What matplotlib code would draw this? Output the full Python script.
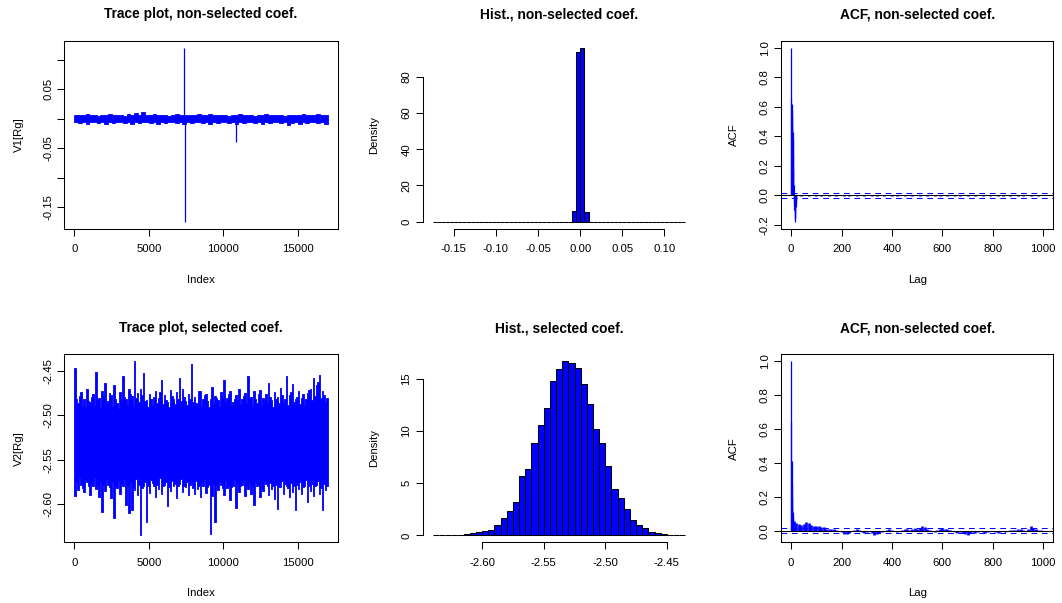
import numpy as np
import matplotlib
matplotlib.use("Agg")
import matplotlib.pyplot as plt

plt.rcParams['font.family'] = ['Liberation Sans', 'DejaVu Sans']

# ---------------- data ----------------
n_iter = 17000

# Trace 1 (non-selected coef.): per-bin upper / lower extremes
trace1_hi = [0.006, 0.007, 0.006, 0.008, 0.006, 0.007, 0.005, 0.007, 0.006, 0.008,
             0.006, 0.007, 0.006, 0.005, 0.009, 0.007, 0.010, 0.006, 0.011, 0.007,
             0.006, 0.008, 0.007, 0.006, 0.007, 0.005, 0.006, 0.008, 0.006, 0.007,
             0.006, 0.007, 0.006, 0.008, 0.007, 0.006, 0.009, 0.007, 0.006, 0.007,
             0.006, 0.005, 0.007, 0.006, 0.008, 0.006, 0.007, 0.006, 0.005, 0.007,
             0.006, 0.008, 0.007, 0.006, 0.007, 0.006, 0.005, 0.007, 0.006, 0.007,
             0.006, 0.008, 0.006, 0.007, 0.006, 0.009, 0.007, 0.006]
trace1_lo = [-0.006, -0.007, -0.006, -0.008, -0.006, -0.005, -0.007, -0.006, -0.009, -0.006,
             -0.007, -0.006, -0.005, -0.007, -0.006, -0.008, -0.006, -0.007, -0.006, -0.005,
             -0.007, -0.006, -0.008, -0.006, -0.007, -0.006, -0.005, -0.007, -0.006, -0.008,
             -0.006, -0.007, -0.006, -0.005, -0.007, -0.006, -0.008, -0.006, -0.007, -0.006,
             -0.005, -0.007, -0.006, -0.008, -0.006, -0.007, -0.006, -0.005, -0.007, -0.006,
             -0.008, -0.006, -0.007, -0.006, -0.005, -0.007, -0.006, -0.010, -0.007, -0.006,
             -0.008, -0.006, -0.007, -0.006, -0.005, -0.007, -0.006, -0.008]
trace1_spike_idx = [7335, 7423, 10850]
trace1_spike_val = [0.121, -0.175, -0.039]

# Trace 2 (selected coef.): per-bin (100 iterations) upper / lower extremes
trace2_hi = [
    -2.447, -2.481, -2.486, -2.478, -2.474, -2.489, -2.482, -2.491, -2.470, -2.484,
    -2.485, -2.479, -2.476, -2.488, -2.451, -2.483, -2.480, -2.490, -2.472, -2.477,
    -2.463, -2.486, -2.484, -2.475, -2.477, -2.489, -2.466, -2.481, -2.486, -2.492,
    -2.474, -2.483, -2.456, -2.479, -2.481, -2.487, -2.470, -2.476, -2.478, -2.488,
    -2.439, -2.480, -2.475, -2.485, -2.470, -2.477, -2.452, -2.484, -2.483, -2.490,
    -2.476, -2.482, -2.488, -2.479, -2.472, -2.486, -2.480, -2.474, -2.460, -2.487,
    -2.477, -2.483, -2.485, -2.490, -2.471, -2.478, -2.482, -2.487, -2.474, -2.481,
    -2.458, -2.484, -2.470, -2.479, -2.484, -2.488, -2.476, -2.482, -2.442, -2.485,
    -2.479, -2.486, -2.487, -2.473, -2.473, -2.489, -2.481, -2.477, -2.476, -2.484,
    -2.490, -2.482, -2.468, -2.487, -2.478, -2.480, -2.483, -2.489, -2.474, -2.479,
    -2.460, -2.484, -2.480, -2.476, -2.472, -2.488, -2.485, -2.481, -2.477, -2.483,
    -2.470, -2.487, -2.482, -2.478, -2.475, -2.486, -2.456, -2.480, -2.479, -2.489,
    -2.473, -2.481, -2.486, -2.476, -2.471, -2.488, -2.480, -2.483, -2.476, -2.485,
    -2.464, -2.479, -2.483, -2.490, -2.474, -2.482, -2.479, -2.486, -2.469, -2.477,
    -2.485, -2.481, -2.456, -2.488, -2.477, -2.474, -2.465, -2.485, -2.482, -2.479,
    -2.473, -2.487, -2.480, -2.476, -2.488, -2.482, -2.475, -2.471, -2.470, -2.483,
    -2.458, -2.478, -2.466, -2.462, -2.455, -2.480, -2.472, -2.477, -2.485, -2.480]
trace2_lo = [
    -2.591, -2.575, -2.584, -2.570, -2.578, -2.582, -2.586, -2.573, -2.575, -2.580,
    -2.590, -2.577, -2.580, -2.571, -2.583, -2.579, -2.592, -2.576, -2.609, -2.578,
    -2.585, -2.572, -2.578, -2.581, -2.593, -2.575, -2.615, -2.579, -2.582, -2.574,
    -2.588, -2.577, -2.579, -2.573, -2.601, -2.580, -2.610, -2.576, -2.606, -2.581,
    -2.584, -2.572, -2.590, -2.578, -2.635, -2.582, -2.580, -2.575, -2.620, -2.579,
    -2.587, -2.573, -2.576, -2.580, -2.592, -2.578, -2.583, -2.571, -2.589, -2.580,
    -2.578, -2.575, -2.602, -2.581, -2.585, -2.574, -2.580, -2.577, -2.593, -2.579,
    -2.577, -2.572, -2.586, -2.580, -2.581, -2.575, -2.590, -2.578, -2.575, -2.582,
    -2.588, -2.574, -2.583, -2.579, -2.592, -2.576, -2.579, -2.572, -2.587, -2.581,
    -2.578, -2.634, -2.591, -2.577, -2.620, -2.579, -2.584, -2.575, -2.578, -2.582,
    -2.590, -2.574, -2.582, -2.578, -2.595, -2.581, -2.580, -2.573, -2.604, -2.577,
    -2.586, -2.579, -2.578, -2.574, -2.591, -2.580, -2.583, -2.576, -2.588, -2.581,
    -2.601, -2.575, -2.580, -2.578, -2.592, -2.582, -2.585, -2.574, -2.577, -2.580,
    -2.590, -2.576, -2.583, -2.579, -2.594, -2.578, -2.605, -2.581, -2.581, -2.574,
    -2.588, -2.577, -2.579, -2.582, -2.592, -2.576, -2.586, -2.580, -2.607, -2.578,
    -2.583, -2.575, -2.589, -2.581, -2.580, -2.573, -2.597, -2.579, -2.585, -2.577,
    -2.591, -2.580, -2.578, -2.574, -2.588, -2.582, -2.606, -2.577, -2.584, -2.579]

# Histogram 1 (non-selected coef.)
hist1_start = -0.175
hist1_width = 0.005
hist1_heights = [0.0] * 33 + [5.7, 93.5, 95.9, 5.5] + [0.0] * 23

# Histogram 2 (selected coef.)
hist2_start = -2.64
hist2_width = 0.005
hist2_heights = [0.01, 0.01, 0.02, 0.03, 0.05, 0.10, 0.22, 0.29, 0.38, 0.51,
                 1.03, 1.70, 2.37, 3.24, 5.70, 6.38, 8.90, 10.60, 12.18, 14.84,
                 15.93, 16.70, 16.54, 16.06, 14.52, 12.63, 10.16, 8.88, 6.63, 4.42,
                 3.62, 2.53, 1.50, 1.00, 0.70, 0.32, 0.19, 0.16, 0.05, 0.03, 0.02]

# ACF 1 : early lags individually, tail every 10 lags from 30
acf1_early = [1.0, 0.66, 0.62, 0.58, 0.53, 0.48, 0.43, 0.38, 0.28, 0.17, 0.07, 0.0,
              -0.05, -0.10, -0.15, -0.178, -0.16, -0.12, -0.08, -0.05, -0.03, -0.01]
acf1_tail = [0.004, -0.003, 0.005, 0.002, -0.004, 0.006, 0.003, -0.002, 0.004, -0.005,
             0.003, 0.005, -0.003, 0.002, 0.004, -0.004, 0.003, 0.006, -0.002, 0.003,
             -0.004, 0.002, 0.005, -0.003, 0.004, 0.002, -0.005, 0.003, 0.004, -0.002,
             0.005, -0.003, 0.002, 0.004, -0.004, 0.003, 0.005, -0.002, 0.003, -0.004,
             0.004, 0.002, -0.003, 0.005, 0.003, -0.004, 0.002, 0.004, -0.003, 0.005,
             0.002, -0.004, 0.003, 0.004, -0.002, 0.005, -0.003, 0.002, 0.004, -0.004,
             0.003, 0.005, -0.002, 0.003, -0.004, 0.004, 0.002, -0.003, 0.005, 0.003,
             -0.004, 0.002, 0.004, -0.003, 0.005, 0.002, -0.004, 0.003, 0.004, -0.002,
             0.005, -0.003, 0.002, 0.004, -0.004, 0.003, 0.005, -0.002, 0.003, -0.004,
             0.004, 0.002, -0.003, 0.005, 0.003, -0.004, 0.002, 0.004]
acf1_tail_start = 30

# ACF 2 : lags 0..9 individually, tail every 10 lags from 10
acf2_early = [1.0, 0.64, 0.41, 0.28, 0.20, 0.15, 0.11, 0.085, 0.07, 0.06]
acf2_tail = [0.055, 0.045, 0.040, 0.035, 0.040, 0.050, 0.045, 0.035, 0.030, 0.030,
             0.025, 0.020, 0.020, 0.012, 0.010, 0.008, 0.012, 0.005, -0.005, -0.010,
             -0.018, -0.020, -0.012, -0.005, 0.003, 0.010, 0.005, -0.008, -0.012, -0.010,
             -0.005, -0.015, -0.028, -0.020, -0.015, -0.010, -0.005, 0.002, 0.008, 0.005,
             -0.003, -0.008, -0.005, 0.004, 0.008, 0.010, 0.006, 0.012, 0.015, 0.010,
             0.018, 0.025, 0.020, 0.010, 0.003, -0.005, -0.008, 0.005, 0.010, 0.015,
             0.012, 0.008, 0.003, -0.003, -0.008, -0.012, -0.010, -0.015, -0.020, -0.025,
             -0.015, -0.010, -0.012, -0.008, -0.005, -0.010, -0.012, -0.008, -0.005, -0.003,
             -0.008, -0.012, -0.010, -0.005, -0.008, -0.004, 0.003, 0.006, 0.005, 0.010,
             0.008, 0.003, -0.005, 0.010, 0.025, 0.015, 0.010, 0.005, 0.002, 0.000]
acf2_tail_start = 10
acf_ci = 0.0153
max_lag = 1000

titles = ["Trace plot, non-selected coef.", "Hist., non-selected coef.", "ACF, non-selected coef.",
          "Trace plot, selected coef.", "Hist., selected coef.", "ACF, non-selected coef."]

# ---------------- drawing ----------------
W, H = 1062, 603
fig = plt.figure(figsize=(W / 100, H / 100), dpi=100)

BLUE = '#0000FF'
TICK_FS = 8.2
TITLE_FS = 9.9
LW = 0.75


def rect(left, right, top, bottom):
    return [left / W, (H - bottom) / H, (right - left) / W, (bottom - top) / H]


cols = [(64.3, 337.7), (422.7, 695.5), (781.0, 1053.3)]
rows = [(40.7, 228.7), (354.3, 542.3)]


def r_range(lo, hi):
    d = (hi - lo) * 0.04
    return lo - d, hi + d


def style(ax, xticks, yticks, yticklabels=None, box=True):
    ax.set_xticks(xticks)
    ax.set_yticks(yticks)
    if yticklabels is not None:
        ax.set_yticklabels(yticklabels)
    ax.tick_params(direction='out', length=5, width=LW, labelsize=TICK_FS, color='black')
    ax.tick_params(axis='x', pad=6)
    ax.tick_params(axis='y', pad=3, labelrotation=90)
    plt.setp(ax.get_yticklabels(), va='center')
    for s in ax.spines.values():
        s.set_linewidth(LW)
    if not box:
        ax.spines['top'].set_visible(False)
        ax.spines['right'].set_visible(False)
        ax.spines['bottom'].set_bounds(xticks[0], xticks[-1])
        ax.spines['left'].set_bounds(yticks[0], yticks[-1])


def set_title(ax, t):
    ax.set_title(t, fontsize=TITLE_FS, fontweight='bold', pad=16)


def draw_trace(ax, hi, lo, n):
    # min/max envelope per bin: how a dense line trace fills each column
    k = len(hi)
    edges = 1 + (n - 1) * np.arange(k + 1) / k
    hi_s = list(hi) + [hi[-1]]
    lo_s = list(lo) + [lo[-1]]
    ax.fill_between(edges, lo_s, hi_s, step='post', color=BLUE, lw=0.6, edgecolor=BLUE)


XL_PAD = 15
YL_PAD = 14

# --- Panel 1: trace non-selected
ax1 = fig.add_axes(rect(cols[0][0], cols[0][1], rows[0][0], rows[0][1]))
draw_trace(ax1, trace1_hi, trace1_lo, n_iter)
ax1.vlines(trace1_spike_idx, 0, trace1_spike_val, color=BLUE, lw=0.9)
ax1.set_xlim(*r_range(1, n_iter))
ax1.set_ylim(*r_range(min(trace1_lo + trace1_spike_val), max(trace1_hi + trace1_spike_val)))
yt1 = [-0.15, -0.10, -0.05, 0.0, 0.05, 0.10]
style(ax1, [0, 5000, 10000, 15000], yt1,
      ['-0.15', '', '-0.05', '', '0.05', ''])
ax1.set_xticklabels(['0', '5000', '10000', '15000'])
ax1.set_xlabel('Index', fontsize=TICK_FS, labelpad=XL_PAD)
ax1.set_ylabel('V1[Rg]', fontsize=TICK_FS, labelpad=YL_PAD)
set_title(ax1, titles[0])

# --- Panel 2: hist non-selected
ax2 = fig.add_axes(rect(cols[1][0], cols[1][1], rows[0][0], rows[0][1]))
edges1 = hist1_start + hist1_width * np.arange(len(hist1_heights) + 1)
ax2.bar(edges1[:-1], hist1_heights, width=hist1_width, align='edge',
        color=BLUE, edgecolor='black', linewidth=LW)
ax2.set_xlim(*r_range(edges1[0], edges1[-1]))
ax2.set_ylim(*r_range(0, max(hist1_heights)))
style(ax2, [-0.15, -0.10, -0.05, 0.0, 0.05, 0.10], [0, 20, 40, 60, 80], box=False)
ax2.set_xticklabels(['-0.15', '-0.10', '-0.05', '0.00', '0.05', '0.10'])
ax2.set_ylabel('Density', fontsize=TICK_FS, labelpad=YL_PAD + 2)
set_title(ax2, titles[1])


# --- ACF helper
def draw_acf(ax, early, tail, tail_start, title):
    lags_e = np.arange(len(early))
    lags_t = tail_start + 10 * np.arange(len(tail))
    ax.vlines(lags_t, 0, tail, color=BLUE, lw=1.9)
    ax.vlines(lags_e, 0, early, color=BLUE, lw=0.9)
    ax.axhline(0, color='black', lw=LW)
    ax.axhline(acf_ci, color=BLUE, lw=LW, ls=(0, (5.5, 4.5)))
    ax.axhline(-acf_ci, color=BLUE, lw=LW, ls=(0, (5.5, 4.5)))
    allv = list(early) + list(tail) + [acf_ci, -acf_ci]
    ax.set_xlim(*r_range(0, max_lag))
    ax.set_ylim(*r_range(min(allv), max(allv)))
    ax.set_xlabel('Lag', fontsize=TICK_FS, labelpad=XL_PAD)
    ax.set_ylabel('ACF', fontsize=TICK_FS, labelpad=YL_PAD + 1)
    set_title(ax, title)


# --- Panel 3: ACF non-selected
ax3 = fig.add_axes(rect(cols[2][0], cols[2][1], rows[0][0], rows[0][1]))
draw_acf(ax3, acf1_early, acf1_tail, acf1_tail_start, titles[2])
yt3 = [-0.2, 0.0, 0.2, 0.4, 0.6, 0.8, 1.0]
style(ax3, [0, 200, 400, 600, 800, 1000], yt3, [f"{v:.1f}" for v in yt3])

# --- Panel 4: trace selected
ax4 = fig.add_axes(rect(cols[0][0], cols[0][1], rows[1][0], rows[1][1]))
draw_trace(ax4, trace2_hi, trace2_lo, n_iter)
ax4.set_xlim(*r_range(1, n_iter))
ax4.set_ylim(*r_range(min(trace2_lo), max(trace2_hi)))
yt4 = [-2.60, -2.55, -2.50, -2.45]
style(ax4, [0, 5000, 10000, 15000], yt4, [f"{v:.2f}" for v in yt4])
ax4.set_xticklabels(['0', '5000', '10000', '15000'])
ax4.set_xlabel('Index', fontsize=TICK_FS, labelpad=XL_PAD)
ax4.set_ylabel('V2[Rg]', fontsize=TICK_FS, labelpad=YL_PAD)
set_title(ax4, titles[3])

# --- Panel 5: hist selected
ax5 = fig.add_axes(rect(cols[1][0], cols[1][1], rows[1][0], rows[1][1]))
edges2 = hist2_start + hist2_width * np.arange(len(hist2_heights) + 1)
ax5.bar(edges2[:-1], hist2_heights, width=hist2_width, align='edge',
        color=BLUE, edgecolor='black', linewidth=LW)
ax5.set_xlim(*r_range(edges2[0], edges2[-1]))
ax5.set_ylim(*r_range(0, max(hist2_heights)))
xt5 = [-2.60, -2.55, -2.50, -2.45]
style(ax5, xt5, [0, 5, 10, 15], box=False)
ax5.set_xticklabels([f"{v:.2f}" for v in xt5])
ax5.set_ylabel('Density', fontsize=TICK_FS, labelpad=YL_PAD + 2)
set_title(ax5, titles[4])

# --- Panel 6: ACF selected
ax6 = fig.add_axes(rect(cols[2][0], cols[2][1], rows[1][0], rows[1][1]))
draw_acf(ax6, acf2_early, acf2_tail, acf2_tail_start, titles[5])
yt6 = [0.0, 0.2, 0.4, 0.6, 0.8, 1.0]
style(ax6, [0, 200, 400, 600, 800, 1000], yt6, [f"{v:.1f}" for v in yt6])

fig.savefig('out.png', dpi=100)
